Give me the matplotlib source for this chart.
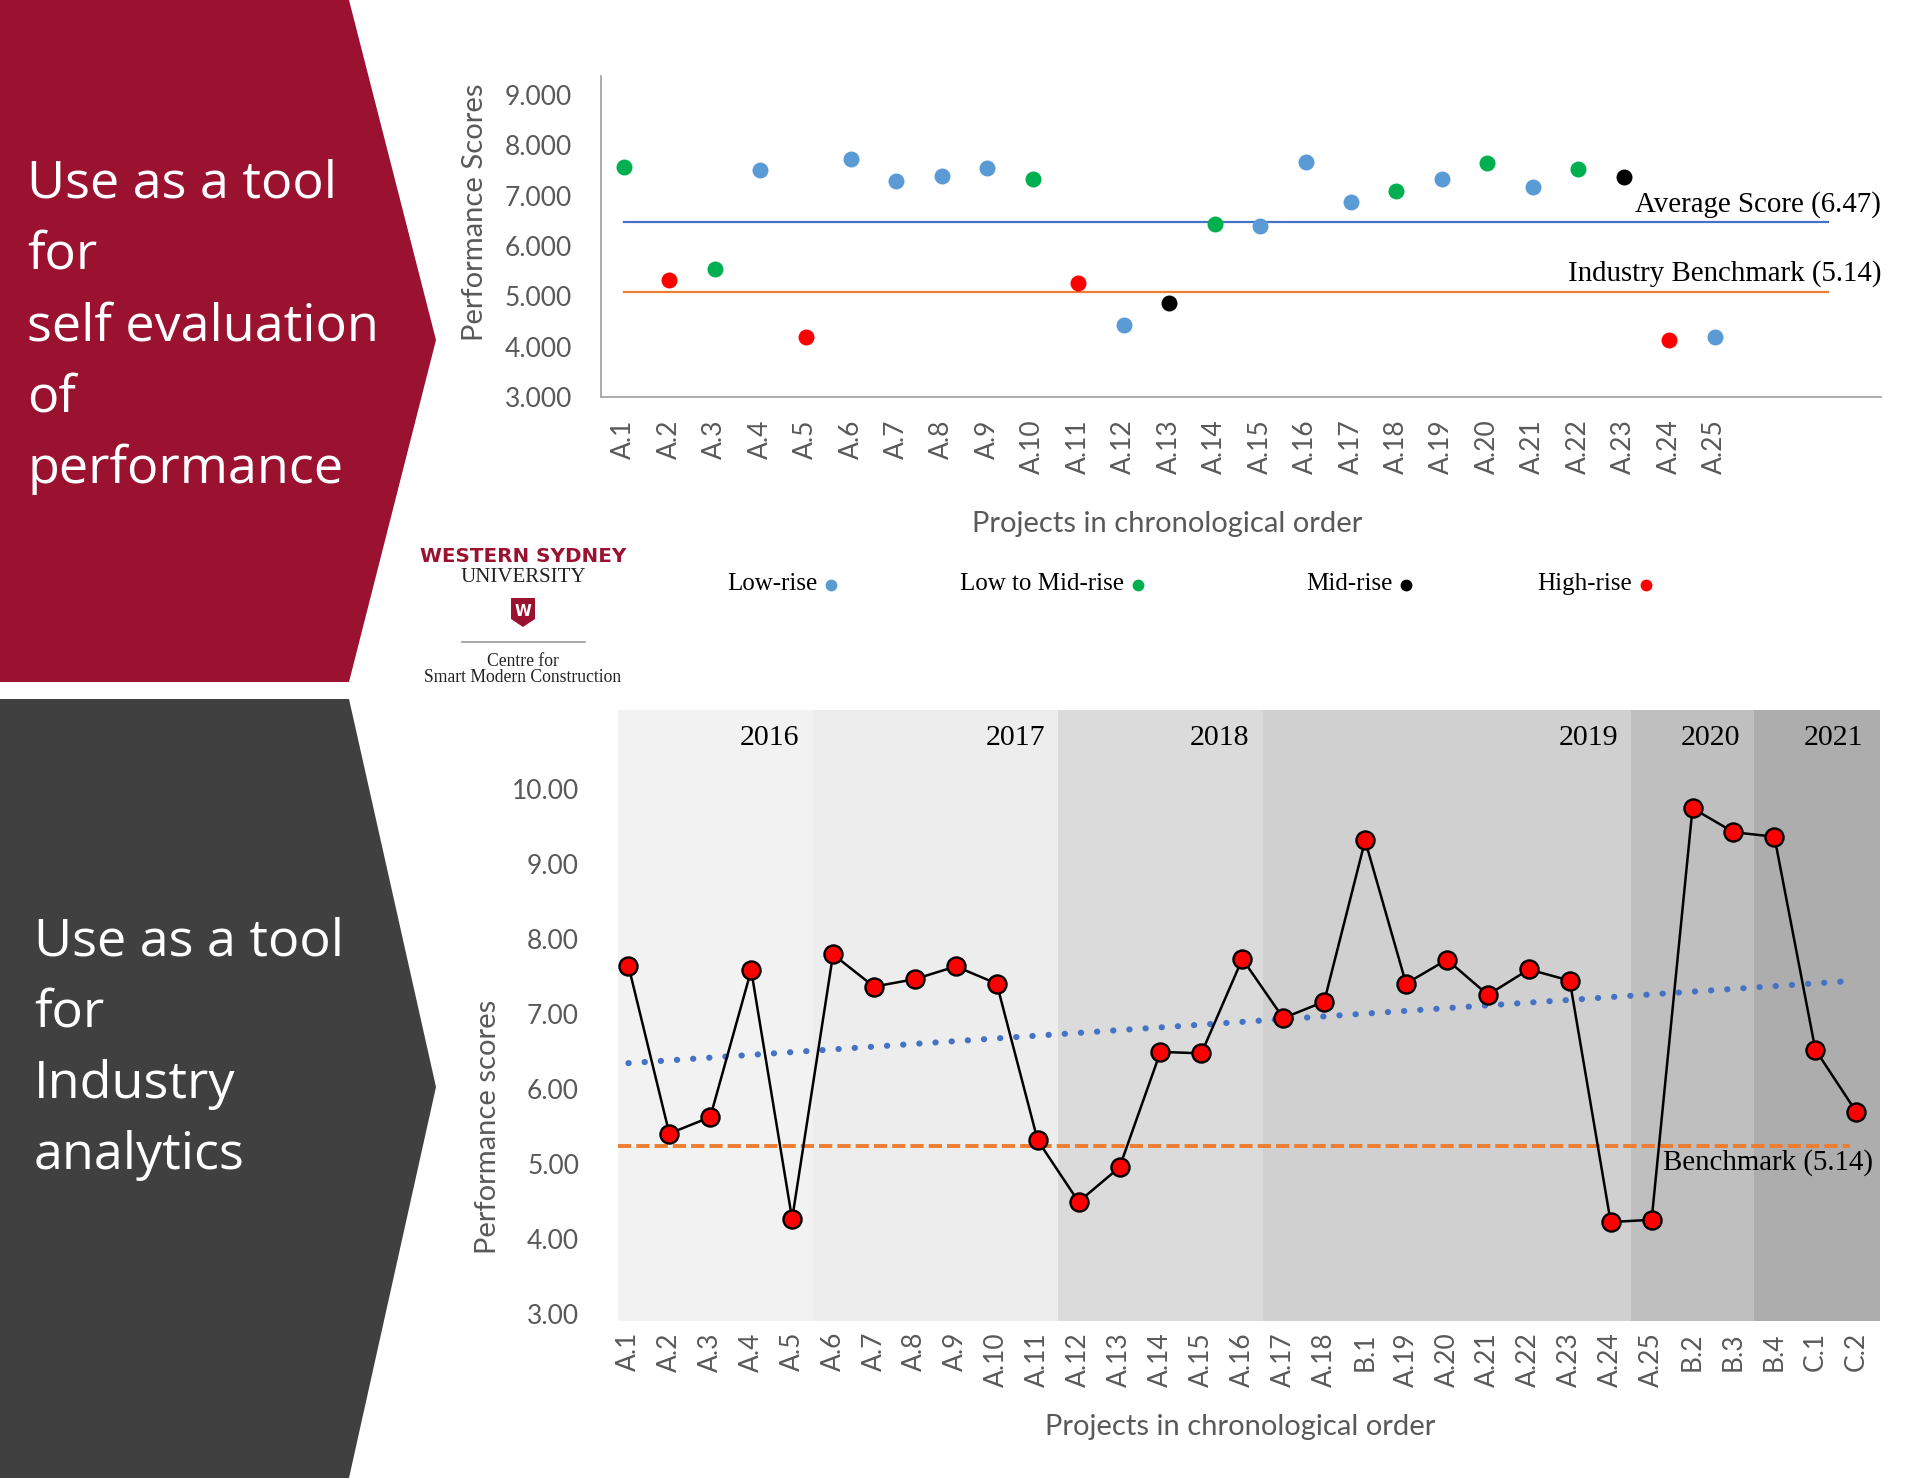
import matplotlib
matplotlib.use("Agg")
import matplotlib.pyplot as plt
import numpy as np
from matplotlib.patches import Polygon
from matplotlib.ticker import FormatStrFormatter

plt.rcParams['font.family'] = ['Lato', 'DejaVu Sans']

# ---------------- data: top chart ----------------
top_projects = ['A.1', 'A.2', 'A.3', 'A.4', 'A.5', 'A.6', 'A.7', 'A.8', 'A.9', 'A.10',
                'A.11', 'A.12', 'A.13', 'A.14', 'A.15', 'A.16', 'A.17', 'A.18', 'A.19',
                'A.20', 'A.21', 'A.22', 'A.23', 'A.24', 'A.25']
top_scores = [7.57, 5.33, 5.55, 7.51, 4.20, 7.73, 7.30, 7.39, 7.56, 7.34,
              5.26, 4.43, 4.87, 6.43, 6.40, 7.67, 6.88, 7.10, 7.33,
              7.65, 7.18, 7.53, 7.38, 4.14, 4.19]
top_types = ['Low to Mid-rise', 'High-rise', 'Low to Mid-rise', 'Low-rise', 'High-rise',
             'Low-rise', 'Low-rise', 'Low-rise', 'Low-rise', 'Low to Mid-rise',
             'High-rise', 'Low-rise', 'Mid-rise', 'Low to Mid-rise', 'Low-rise',
             'Low-rise', 'Low-rise', 'Low to Mid-rise', 'Low-rise', 'Low to Mid-rise',
             'Low-rise', 'Low to Mid-rise', 'Mid-rise', 'High-rise', 'Low-rise']
building_types = ['Low-rise', 'Low to Mid-rise', 'Mid-rise', 'High-rise']
average_score = 6.47
industry_benchmark_top = 5.09   # line as drawn in the picture (labelled 5.14)

# ---------------- data: bottom chart ----------------
bot_projects = ['A.1', 'A.2', 'A.3', 'A.4', 'A.5', 'A.6', 'A.7', 'A.8', 'A.9', 'A.10',
                'A.11', 'A.12', 'A.13', 'A.14', 'A.15', 'A.16', 'A.17', 'A.18', 'B.1',
                'A.19', 'A.20', 'A.21', 'A.22', 'A.23', 'A.24', 'A.25', 'B.2', 'B.3',
                'B.4', 'C.1', 'C.2']
bot_scores = [7.65, 5.41, 5.63, 7.59, 4.27, 7.80, 7.37, 7.47, 7.64, 7.41,
              5.32, 4.50, 4.96, 6.50, 6.48, 7.74, 6.95, 7.17, 9.32,
              7.41, 7.73, 7.26, 7.60, 7.45, 4.23, 4.26, 9.75, 9.43,
              9.37, 6.53, 5.70]
years = ['2016', '2017', '2018', '2019', '2020', '2021']
projects_per_year = [5, 6, 5, 9, 3, 3]
benchmark_bottom = 5.25          # line as drawn in the picture (labelled 5.14)

# ---------------- styles ----------------
type_colors = {'Low-rise': '#5B9BD5', 'Low to Mid-rise': '#00B050',
               'Mid-rise': '#000000', 'High-rise': '#FF0000'}
band_colors = ['#F2F2F2', '#EDEDED', '#DBDBDB', '#D0D0D0', '#BFBFBF', '#ADADAD']
gray_txt = '#595959'
crimson = '#9B1230'
dark = '#404040'

W, H = 1920, 1478
fig = plt.figure(figsize=(W / 100, H / 100), dpi=100)

# background / decoration layer in pixel coordinates
bg = fig.add_axes([0, 0, 1, 1], zorder=-5)
bg.set_xlim(0, W)
bg.set_ylim(H, 0)
bg.axis('off')
bg.add_patch(Polygon([(0, 0), (349, 0), (436, 340), (349, 682), (0, 682)],
                     closed=True, facecolor=crimson, edgecolor='none'))
bg.add_patch(Polygon([(0, 699), (349, 699), (436, 1087), (349, H), (0, H)],
                     closed=True, facecolor=dark, edgecolor='none'))
bg.text(27, 327, "Use as a tool\nfor\nself evaluation\nof\nperformance",
        color='white', fontsize=37.5, family='Open Sans', ha='left', va='center',
        linespacing=1.52)
bg.text(34, 1049, "Use as a tool\nfor\nIndustry\nanalytics",
        color='white', fontsize=37.5, family='Open Sans', ha='left', va='center',
        linespacing=1.52)
# logo
bg.text(523, 557, "WESTERN SYDNEY", color=crimson, fontsize=14.3, family='DejaVu Sans',
        fontweight='bold', ha='center', va='center')
bg.text(523, 578, "UNIVERSITY", color='#222222', fontsize=15,
        family='Liberation Serif', ha='center', va='center')
bg.add_patch(Polygon([(511, 598), (535, 598), (535, 619), (523, 627), (511, 619)],
                     closed=True, facecolor=crimson, edgecolor='none'))
bg.text(523, 611, "W", color='white', fontsize=11, family='DejaVu Sans',
        fontweight='bold', ha='center', va='center')
bg.plot([462, 585], [642, 642], color='#999999', lw=1.2)
bg.text(523, 662, "Centre for", color='#222222', fontsize=12.7,
        family='Liberation Serif', ha='center', va='center')
bg.text(523, 678, "Smart Modern Construction", color='#222222', fontsize=12.7,
        family='Liberation Serif', ha='center', va='center')

# legend row for building types
legend_text_x = [727, 960, 1306, 1537]
legend_texts = []
for bt, lx in zip(building_types, legend_text_x):
    legend_texts.append(bg.text(lx, 584, bt, color='black', fontsize=18,
                                family='Liberation Serif', ha='left', va='center'))
fig.canvas.draw()
for t, bt in zip(legend_texts, building_types):
    bb = t.get_window_extent()
    x_data = bg.transData.inverted().transform((bb.x1 + 14, 0))[0]
    bg.plot([x_data], [585], marker='o', ms=8.5, color=type_colors[bt], mec='none', ls='none')

# ---------------- top chart ----------------
ax1 = fig.add_axes([601 / W, 1 - 397 / H, 1280 / W, 321 / H])
xt = np.arange(len(top_projects))
for bt in building_types:
    idx = [i for i, t in enumerate(top_types) if t == bt]
    ax1.plot(xt[idx], np.array(top_scores)[idx], 'o', ms=11.5, color=type_colors[bt],
             mec='none', zorder=3)
line_end = len(top_projects) + 1.5
ax1.plot([0, line_end], [average_score, average_score], color='#4472C4', lw=1.6, zorder=2)
ax1.plot([0, line_end], [industry_benchmark_top, industry_benchmark_top],
         color='#ED7D31', lw=1.6, zorder=2)
ax1.text(1.0, 6.82, f"Average Score ({average_score:.2f})", transform=ax1.get_yaxis_transform(),
         ha='right', va='center', fontsize=20.8, family='Liberation Serif', color='black')
ax1.text(1.0, 5.45, "Industry Benchmark (5.14)", transform=ax1.get_yaxis_transform(),
         ha='right', va='center', fontsize=20.8, family='Liberation Serif', color='black')
ax1.set_xlim(-0.5, 27.66)
ax1.set_ylim(3, 9.38)
ax1.set_yticks(np.arange(3, 10, 1))
ax1.yaxis.set_major_formatter(FormatStrFormatter('%.3f'))
ax1.set_xticks(xt)
ax1.set_xticklabels(top_projects, rotation=90)
ax1.tick_params(axis='both', length=0, labelsize=19, labelcolor=gray_txt)
ax1.tick_params(axis='y', pad=21)
ax1.tick_params(axis='x', pad=16)
for s in ['top', 'right']:
    ax1.spines[s].set_visible(False)
for s in ['left', 'bottom']:
    ax1.spines[s].set_color('#A6A6A6')
    ax1.spines[s].set_linewidth(1.3)
ax1.set_facecolor('none')
ax1.set_ylabel("Performance Scores", fontsize=21, color=gray_txt)
ax1.yaxis.set_label_coords(-0.088, 0.576)
ax1.set_xlabel("Projects in chronological order", fontsize=21, color=gray_txt)
ax1.xaxis.set_label_coords(0.442, -0.356)

# ---------------- bottom chart ----------------
ax2 = fig.add_axes([618 / W, 1 - 1321 / H, 1262 / W, 611 / H])
xb = np.arange(len(bot_projects))
xlo, xhi = -0.254, 30.58
edges = np.concatenate([[xlo], np.cumsum(projects_per_year)[:-1] - 0.5, [xhi]])
for i, (yr, col) in enumerate(zip(years, band_colors)):
    ax2.axvspan(edges[i], edges[i + 1], color=col, lw=0, zorder=0)
    ax2.text(np.cumsum(projects_per_year)[i] - 0.5 - 1.05, 10.68, yr, ha='center',
             va='center', fontsize=21.5, family='Liberation Serif', color='black', zorder=5)
coef = np.polyfit(xb, bot_scores, 1)
ax2.plot(xb, np.polyval(coef, xb), color='#4472C4', lw=4.4, ls=(0, (0.05, 2.6)),
         dash_capstyle='round', zorder=2)
ax2.plot([xlo, len(bot_projects) - 1.15], [benchmark_bottom, benchmark_bottom],
         color='#ED7D31', lw=2.8, ls=(0, (3.4, 1.3)), zorder=2)
ax2.plot(xb, bot_scores, '-o', color='black', lw=1.8, ms=13, mfc='#FF0000', mec='black',
         mew=1.7, zorder=4)
ax2.text(25.29, 5.03, "Benchmark (5.14)", ha='left', va='center', fontsize=20.8,
         family='Liberation Serif', color='black', zorder=5)
ax2.set_xlim(xlo, xhi)
ax2.set_ylim(2.91, 11.06)
ax2.set_yticks(np.arange(3, 11, 1))
ax2.yaxis.set_major_formatter(FormatStrFormatter('%.2f'))
ax2.set_xticks(xb)
ax2.set_xticklabels(bot_projects, rotation=90)
ax2.tick_params(axis='both', length=0, labelsize=19, labelcolor=gray_txt)
ax2.tick_params(axis='y', pad=28)
ax2.tick_params(axis='x', pad=8)
for s in ax2.spines.values():
    s.set_visible(False)
ax2.set_ylabel("Performance scores", fontsize=21, color=gray_txt)
ax2.yaxis.set_label_coords(-0.0925, 0.318)
ax2.set_xlabel("Projects in chronological order", fontsize=21, color=gray_txt)
ax2.xaxis.set_label_coords(0.493, -0.153)

fig.savefig("out.png", dpi=100, facecolor='white')
